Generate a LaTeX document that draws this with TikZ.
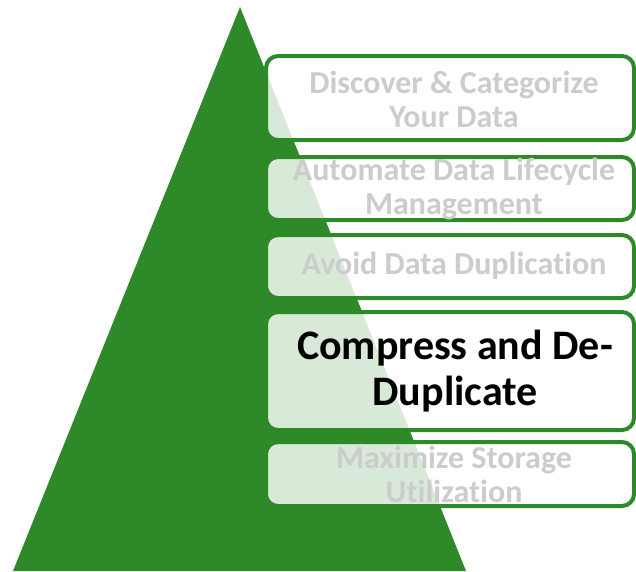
\documentclass[tikz,border=0pt]{standalone}
\usepackage{fontspec}
\setmainfont[Ligatures=NoCommon]{Carlito}
\definecolor{pgreen}{RGB}{46,138,41}
\definecolor{ltgray}{RGB}{204,204,204}
\begin{document}
\begin{tikzpicture}[x=1pt,y=-1pt,
  stagebox/.style={draw=pgreen,line width=4pt,rounded corners=12pt,fill=white,fill opacity=0.82},
  dimtext/.style={text=ltgray,font=\bfseries\fontsize{32}{34}\selectfont,align=center,inner sep=0pt},
  acttext/.style={text=black,font=\bfseries\fontsize{42}{46}\selectfont,align=center,inner sep=0pt}]
\useasboundingbox (0,0) rectangle (636,571);
\begin{scope}
\clip (0,0) rectangle (636,571);
\fill[pgreen] (240,7) -- (466,571) -- (13,571) -- cycle;
\draw[stagebox] (266,56) rectangle (634,140);
\draw[stagebox] (266,157) rectangle (634,220);
\draw[stagebox] (266,235) rectangle (634,298);
\draw[stagebox] (266,312) rectangle (634,430);
\draw[stagebox] (266,442) rectangle (634,506);
\end{scope}
\node[dimtext] (s1) at (454,99) {Discover \& Categorize\\Your Data};
\node[dimtext] (s2) at (454,189) {Automate Data Lifecycle\\Management};
\node[dimtext] (s3) at (454,266) {Avoid Data Duplication};
\node[acttext] (s4) at (455,371) {Compress and De-\\Duplicate};
\node[dimtext] (s5) at (454,474) {Maximize Storage\\Utilization};
\end{tikzpicture}
\end{document}
